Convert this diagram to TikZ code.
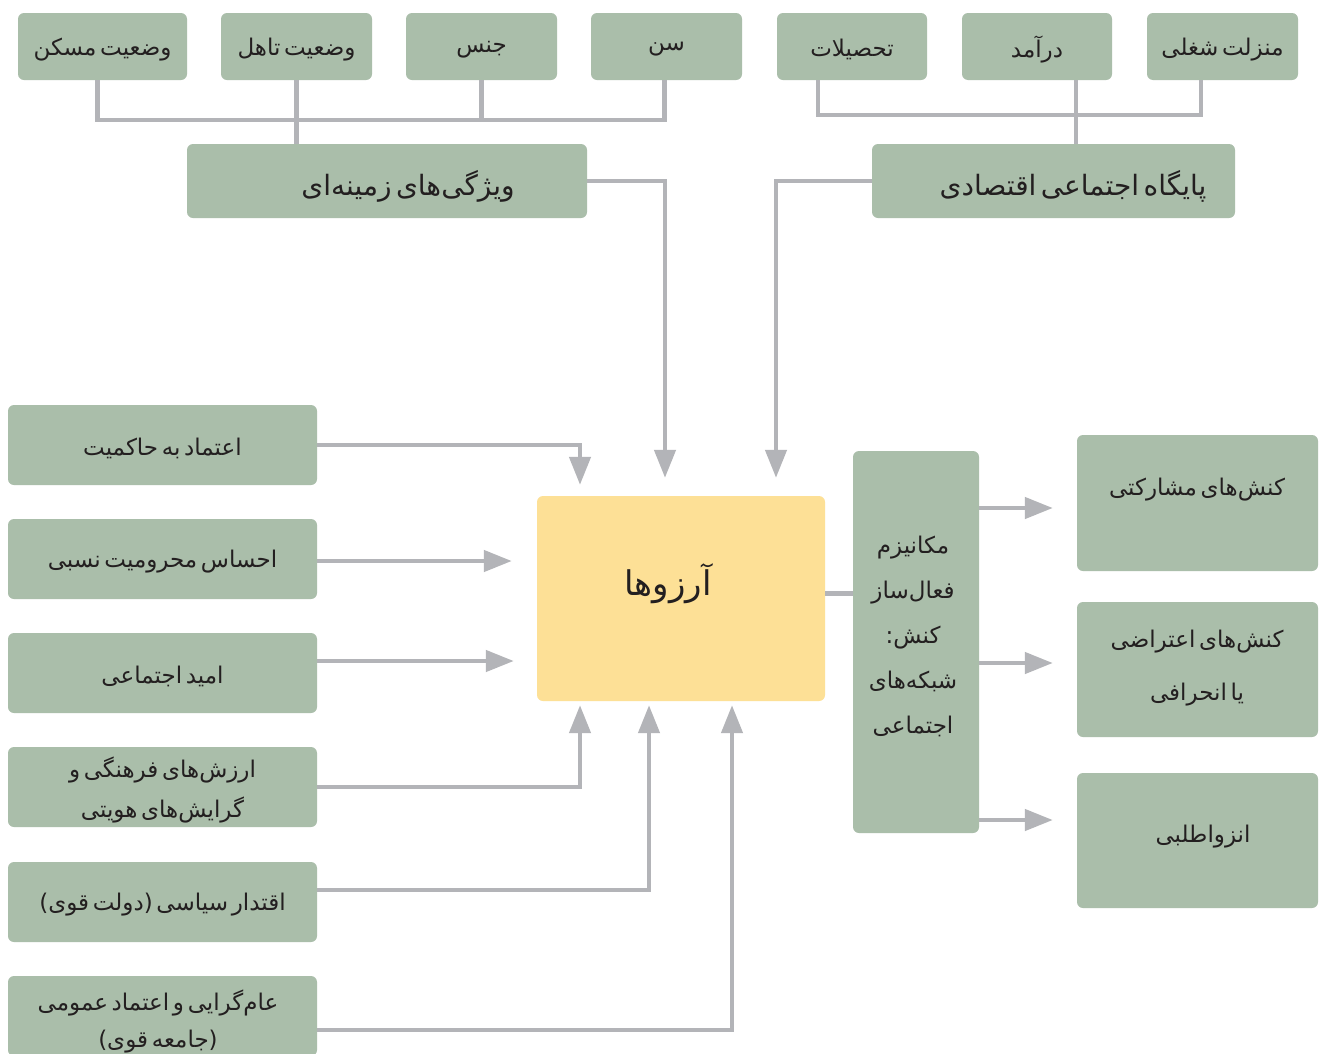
\documentclass[tikz,border=0pt]{standalone}
\usepackage{fontspec}
\usetikzlibrary{arrows.meta,calc}
\TeXXeTstate=1
\newfontfamily\fafont[Script=Arabic, WordSpace=0.5]{DejaVu Sans}
\newcommand{\fa}[1]{\raisebox{-3pt}[\height][\depth]{\beginR #1\endR}}
\definecolor{gboxc}{HTML}{AABEAA}
\definecolor{ylwc}{HTML}{FDE096}
\definecolor{linec}{HTML}{B3B4B8}
\definecolor{textc}{HTML}{231F20}
\begin{document}
\begin{tikzpicture}[x=1pt,y=-1pt,
  gbox/.style={fill=gboxc, rounded corners=6pt, inner sep=0pt, text=textc,
    font=\fafont\fontsize{23}{40}\selectfont, align=center},
  ybox/.style={gbox, fill=ylwc},
  txt/.style={inner sep=0pt, text=textc, align=center},
  conn/.style={draw=linec, line width=4.5pt},
  arr/.style={conn, -{Triangle[length=28pt,width=21pt]}},
]
\clip (0,0) rectangle (1324,1053);
\fill[white] (0,0) rectangle (1324,1053);

% top row
\node[gbox, minimum width=169, minimum height=67] (b1) at (102.5,46.5) {\fa{وضعیت مسکن}};
\node[gbox, minimum width=151, minimum height=67] (b2) at (296.5,46.5) {\fa{وضعیت تاهل}};
\node[gbox, minimum width=151, minimum height=67] (b3) at (481.5,46.5) {\fa{جنس}};
\node[gbox, minimum width=151, minimum height=67] (b4) at (666.5,46.5) {\fa{سن}};
\node[gbox, minimum width=150, minimum height=67] (b5) at (852,46.5) {\fa{تحصیلات}};
\node[gbox, minimum width=150, minimum height=67] (b6) at (1037,46.5) {\fa{درآمد}};
\node[gbox, minimum width=151, minimum height=67] (b7) at (1222.5,46.5) {\fa{منزلت شغلی}};

% second row
\node[gbox, minimum width=400, minimum height=74] (vz) at (387,181) {};
\node[txt, font=\fafont\fontsize{28}{32}\selectfont] (vzt) at (408,183) {\fa{ویژگی^^^^200cهای زمینه^^^^200cای}};
\node[gbox, minimum width=363, minimum height=74] (pa) at (1053.5,181) {};
\node[txt, font=\fafont\fontsize{28}{32}\selectfont] (pat) at (1073,183) {\fa{پایگاه اجتماعی اقتصادی}};

% central box
\node[ybox, minimum width=288, minimum height=205] (arz) at (681,598.5) {};
\node[txt, font=\fafont\fontsize{34}{38}\selectfont] (arzt) at (668,581) {\fa{آرزوها}};

% left boxes
\node[gbox, minimum width=309, minimum height=80] (L1) at (162.5,445) {\fa{اعتماد به حاکمیت}};
\node[gbox, minimum width=309, minimum height=80] (L2) at (162.5,559) {\fa{احساس محرومیت نسبی}};
\node[gbox, minimum width=309, minimum height=80] (L3) at (162.5,673) {\fa{امید اجتماعی}};
\node[gbox, minimum width=309, minimum height=80] (L4) at (162.5,787) {\fa{ارزش^^^^200cهای فرهنگی و}\\\fa{گرایش^^^^200cهای هویتی}};
\node[gbox, minimum width=309, minimum height=80] (L5) at (162.5,902) {\fa{اقتدار سیاسی (دولت قوی)}};
\node[gbox, minimum width=309, minimum height=80] (L6) at (162.5,1016) {};
\node[txt, font=\fafont\fontsize{23}{37}\selectfont] (L6t) at (158,1018) {\fa{عام^^^^200cگرایی و اعتماد عمومی}\\\fa{(جامعه قوی)}};

% mechanism box
\node[gbox, minimum width=126, minimum height=382] (mech) at (916,642) {};
\node[txt, font=\fafont\fontsize{23}{45}\selectfont] (mecht) at (913,633) {\fa{مکانیزم}\\\fa{فعال^^^^200cساز}\\\fa{کنش:}\\\fa{شبکه^^^^200cهای}\\\fa{اجتماعی}};

% right boxes
\node[gbox, minimum width=241, minimum height=136] (R1) at (1197.5,503) {};
\node[txt, font=\fafont\fontsize{23}{38}\selectfont] (R1t) at (1197,487) {\fa{کنش^^^^200cهای مشارکتی}};
\node[gbox, minimum width=241, minimum height=135] (R2) at (1197.5,669.5) {};
\node[txt, font=\fafont\fontsize{23}{53}\selectfont] (R2t) at (1197,665) {\fa{کنش^^^^200cهای اعتراضی}\\\fa{یا انحرافی}};
\node[gbox, minimum width=241, minimum height=135] (R3) at (1197.5,840.5) {};
\node[txt, font=\fafont\fontsize{23}{38}\selectfont] (R3t) at (1203,834) {\fa{انزواطلبی}};

% top buses
\draw[conn] ($(b1.south)+(-5,0)$) -- ++(0,40) -| ($(b4.south)+(-2,0)$);
\draw[conn] (b2.south) -- (b2.south |- vz.north);
\draw[conn] (b3.south) -- ++(0,40);
\coordinate (b6c) at ($(b6.south)+(39,0)$);
\draw[conn] ($(b5.south)+(-34,0)$) -- ++(0,35) -| ($(b7.south)+(-21.5,0)$);
\draw[conn] (b6c) -- (b6c |- pa.north);

% arrows into the central box
\draw[arr] (vz.east) -| ($(arz.north)+(-16,-18)$);
\draw[arr] (pa.west) -| ($(arz.north)+(95,-18)$);
\draw[arr] (L1.east) -| ($(arz.north)+(-101,-11)$);
\draw[arr, shorten >=25pt] ($(L2.east)+(0,2)$) -- ($(L2.east -| arz.west)+(0,2)$);
\draw[arr, shorten >=23pt] ($(L3.east)+(0,-12)$) -- ($(L3.east -| arz.west)+(0,-12)$);
\draw[arr] (L4.east) -| ($(arz.south)+(-101,4)$);
\draw[arr] ($(L5.east)+(0,-12)$) -| ($(arz.south)+(-32,4)$);
\draw[arr] ($(L6.east)+(0,14)$) -| ($(arz.south)+(51,4)$);

% central box to mechanism
\draw[conn] ($(arz.east)+(0,-5)$) -- ($(arz.east -| mech.west)+(0,-5)$);

% mechanism to outcomes
\draw[arr, shorten >=24pt] ($(R1.west -| mech.east)+(0,5)$) -- ($(R1.west)+(0,5)$);
\draw[arr, shorten >=24pt] ($(R2.west -| mech.east)+(0,-6.5)$) -- ($(R2.west)+(0,-6.5)$);
\draw[arr, shorten >=24pt] ($(R3.west -| mech.east)+(0,-20.5)$) -- ($(R3.west)+(0,-20.5)$);
\end{tikzpicture}
\end{document}
